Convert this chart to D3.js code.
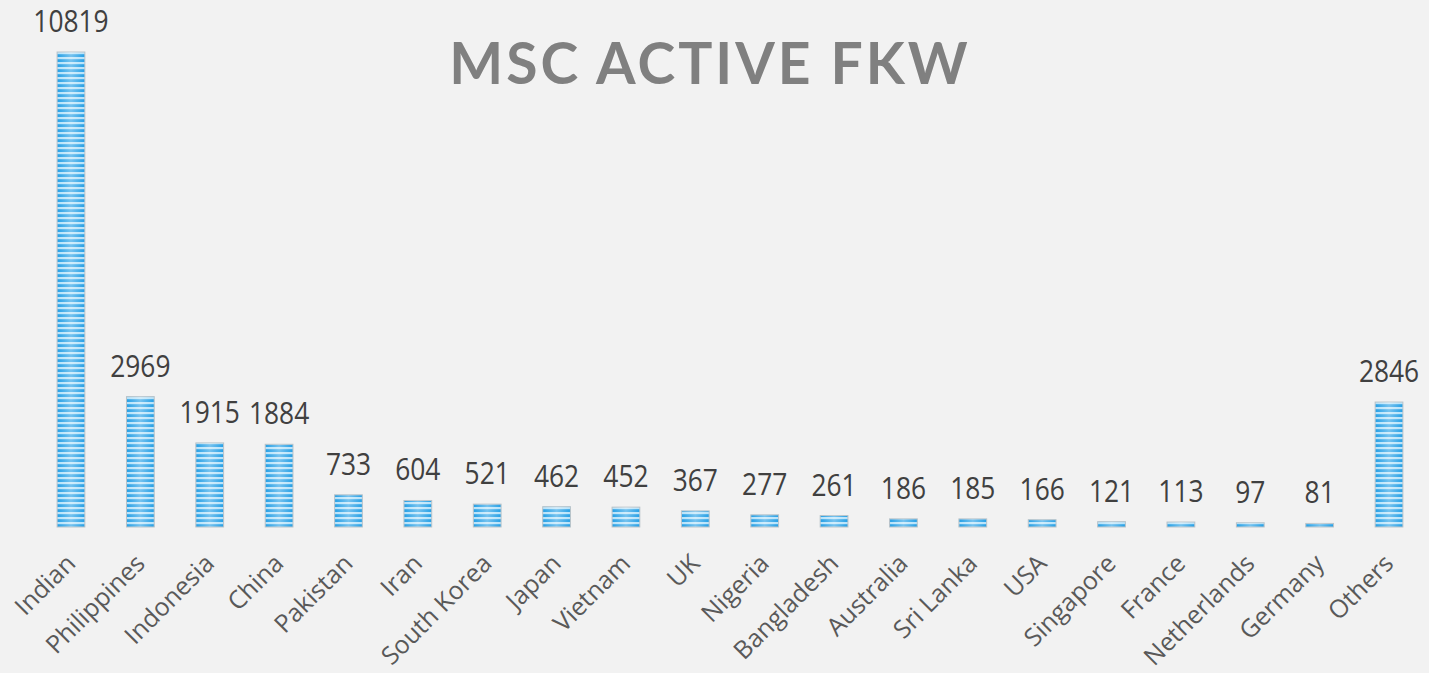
<!DOCTYPE html>
<html><head><meta charset="utf-8">
<script src="https://cdn.jsdelivr.net/npm/d3@7"></script>
<style>body{margin:0;background:#f2f2f2;}svg{display:block;}</style>
</head><body>
<script>
const categories = ["Indian","Philippines","Indonesia","China","Pakistan","Iran","South Korea","Japan","Vietnam","UK","Nigeria","Bangladesh","Australia","Sri Lanka","USA","Singapore","France","Netherlands","Germany","Others"];
const values = [10819,2969,1915,1884,733,604,521,462,452,367,277,261,186,185,166,121,113,97,81,2846];
const title = "MSC ACTIVE FKW";

const W = 1429, H = 673;
const svg = d3.select("body").append("svg").attr("width", W).attr("height", H);
svg.append("rect").attr("width", W).attr("height", H).attr("fill", "#f2f2f2");

const defs = svg.append("defs");
const hg = defs.append("linearGradient").attr("id","hg").attr("x1","0").attr("x2","1").attr("y1","0").attr("y2","0");
hg.append("stop").attr("offset","0").attr("stop-color","#ffffff").attr("stop-opacity",0);
hg.append("stop").attr("offset","0.5").attr("stop-color","#ffffff").attr("stop-opacity",0.35);
hg.append("stop").attr("offset","1").attr("stop-color","#ffffff").attr("stop-opacity",0);
const pat = defs.append("pattern").attr("id","stripes").attr("patternUnits","userSpaceOnUse").attr("width",8).attr("height",5);
pat.append("rect").attr("width",8).attr("height",5).attr("fill","#2ba2e6");
pat.append("rect").attr("y",2).attr("width",8).attr("height",2.2).attr("fill","#b8e3fa");

const x = d3.scaleBand().domain(categories).range([36.3, 1423.7]).paddingInner(0.6).paddingOuter(0.3);
const y = d3.scaleLinear().domain([0, 10819]).range([527, 52]);

const g = svg.append("g");
const bars = g.selectAll("g.bar").data(categories).join("g").attr("class","bar");
bars.append("rect")
  .attr("x", d => x(d)).attr("width", x.bandwidth())
  .attr("y", (d,i) => y(values[i])).attr("height", (d,i) => y(0) - y(values[i]))
  .attr("fill", "url(#stripes)").attr("stroke","#b9c3c9").attr("stroke-width",1);
bars.append("rect")
  .attr("x", d => x(d)+1).attr("width", x.bandwidth()-2)
  .attr("y", (d,i) => y(values[i])).attr("height", (d,i) => y(0) - y(values[i]))
  .attr("fill", "url(#hg)");

g.selectAll("text.val").data(categories).join("text").attr("class","val")
  .attr("transform", (d,i) => `translate(${x(d) + x.bandwidth()/2},${y(values[i]) - 20}) scale(0.85,1)`)
  .attr("text-anchor","middle")
  .attr("font-family","'Open Sans', sans-serif").attr("font-size",31)
  .attr("fill","#404040")
  .text((d,i) => values[i]);

g.selectAll("text.cat").data(categories).join("text").attr("class","cat")
  .attr("transform", d => `translate(${x(d) + x.bandwidth()/2 + 6},${565}) rotate(-45)`)
  .attr("text-anchor","end")
  .attr("font-family","'Open Sans', sans-serif").attr("font-size",25)
  .attr("fill","#595959")
  .text(d => d);

svg.append("text").attr("x", 710).attr("y", 84).attr("text-anchor","middle")
  .attr("font-family","Lato, sans-serif").attr("font-weight",700).attr("font-size",57)
  .attr("letter-spacing",3).attr("fill","#808080").text(title);
</script>
</body></html>
